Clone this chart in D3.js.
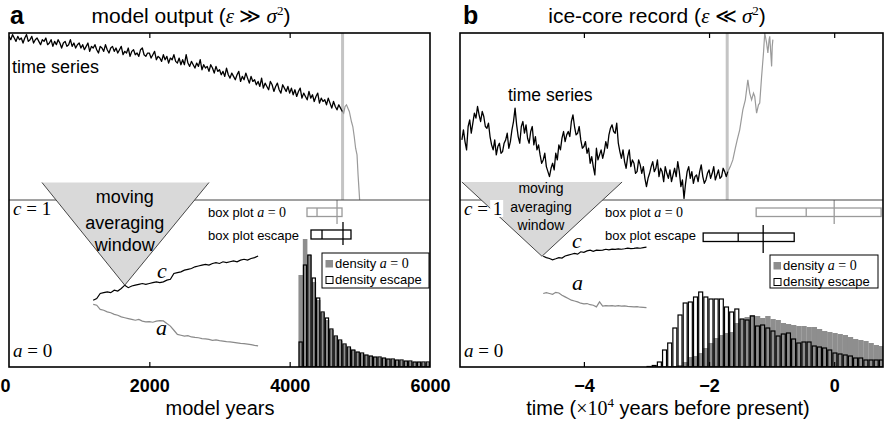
<!DOCTYPE html>
<html><head><meta charset="utf-8">
<script src="https://cdn.jsdelivr.net/npm/d3@7"></script>
<style>body{margin:0;background:#fff}svg{display:block}</style>
</head><body><svg id="chart" width="885" height="435"></svg>
<script>
// ---------------- DATA ----------------
// panel a: model output (years)
const modelTicks = [0, 2000, 4000, 6000];
const modelStart = 0, modelStep = 25;
const modelBlack = [
  98,96,99,97,95,98,96,97,94,97,99,95,96,98,94,96,97,95,93,96,
  95,97,93,94,96,92,95,93,96,94,91,94,95,92,93,96,92,94,91,93,
  94,91,93,90,92,94,89,92,91,93,90,88,92,91,89,93,90,88,91,92,
  89,91,88,90,92,87,89,88,91,86,89,90,87,88,86,90,91,87,86,88,
  88,85,87,89,84,86,85,83,87,84,86,82,85,84,87,83,82,85,81,84,
  81,87,82,80,83,81,79,82,80,84,78,81,79,80,77,81,79,76,80,77,
  78,75,77,74,79,75,73,76,74,72,75,77,71,74,72,76,73,70,74,71,
  72,69,71,68,73,67,70,68,66,71,69,65,68,70,66,64,69,67,65,68,
  64,67,63,66,62,65,67,61,64,62,60,65,61,63,59,62,64,58,61,59,
  60,57,61,58,55,59,56,54,57,55,53];
const modelGrayYears = [4750,4770,4790,4810,4830,4850,4880,4900,4920,4940,4960,4975,4990,5000];
const modelGrayVals  = [53,52,56,57,55,53,47,44,38,31,27,15,5,-2];
const modelTransition = 4754;
const modelLineStart = 1200, modelLineStep = 50;
const modelC = [0.40,0.41,0.44,0.445,0.45,0.445,0.46,0.455,0.47,0.49, 0.475,0.485,0.49,0.495,0.50,0.495,0.50,0.505,0.51,0.505,
  0.51,0.52,0.525,0.56,0.565,0.57,0.58,0.585,0.59,0.60, 0.605,0.61,0.615,0.61,0.62,0.625,0.62,0.63,0.625,0.63,
  0.635,0.63,0.64,0.645,0.64,0.65,0.655,0.665];
const modelA = [0.375,0.37,0.345,0.34,0.33,0.325,0.315,0.31,0.30,0.295, 0.29,0.285,0.28,0.285,0.275,0.27,0.272,0.268,0.275,0.278,
  0.276,0.26,0.245,0.22,0.195,0.19,0.185,0.188,0.18,0.177, 0.175,0.17,0.168,0.165,0.16,0.162,0.158,0.155,0.152,0.15,
  0.148,0.145,0.142,0.14,0.137,0.134,0.13,0.127];
const modelWindow = [470, 1650, 2850];         // start, centre, end (years)
const modelBinStart = 4125, modelBinWidth = 62.5;
const modelDensA0  = [92,128,112,85,67,54,47,37,30,26,22,19,17,15,13,12,11,10,9,9,8,7,7,6,6,5,5,5,4,4];
const modelDensEsc = [25,102,112,89,69,55,49,38,31,27,23,20,17,15,14,12,11,10,10,9,8,8,7,7,6,6,5,5,5,5];
const modelBoxA0  = [4247, 4390, 4746, 4675];  // q1, median, q3, marker
const modelBoxEsc = [4304, 4461, 4874, 4760];

// panel b: ice-core record (x 10^4 years before present)
const iceTicks = [-4, -2, 0];
const iceStart = -5.95, iceStep = 0.025;
const iceBlack = [
  36,42,35,30,44,48,40,46,52,49,56,51,47,53,50,44,43,46,38,33,
  30,36,27,32,34,28,29,34,36,40,31,35,42,47,55,45,38,34,44,47,
  40,45,37,34,41,44,33,38,30,33,27,22,24,28,20,17,14,19,22,18,
  28,24,33,30,37,41,35,39,41,38,47,51,44,39,40,44,36,31,32,35,
  28,31,22,26,20,15,31,24,27,30,25,29,35,31,39,43,45,41,40,46,
  34,29,25,30,23,19,26,30,20,24,22,16,17,24,21,16,20,13,8,13,
  16,20,23,17,19,24,14,19,17,11,20,16,13,18,11,15,19,14,23,17,
  8,12,1,10,17,20,13,17,10,14,15,11,17,21,14,10,12,16,18,13,
  16,20,12,15,18,13,14,19,17,14,17];
const iceGrayT = [-1.70,-1.66,-1.62,-1.58,-1.55,-1.51,-1.46,-1.42,-1.38,-1.35,-1.32,-1.29,-1.27,-1.24,-1.21,-1.19,-1.16,-1.13,-1.11,-1.08,-1.06,-1.04,-1.03,-1.01,-1.00,-0.99,-0.98];
const iceGrayV = [17,20,24,31,36,42,54,60,72,64,60,64,62,52,57,58,74,88,100,94,88,96,98,86,80,92,96];
const iceTransition = -1.71;
const iceLineStart = -4.65, iceLineStep = 0.05;
const iceC = [0.663,0.655,0.65,0.642,0.648,0.655,0.652,0.665,0.67,0.675, 0.68,0.676,0.69,0.687,0.695,0.70,0.693,0.70,0.698,0.70,
  0.705,0.702,0.706,0.704,0.707,0.705,0.708,0.712,0.709,0.71, 0.713,0.711,0.715,0.718];
const iceA = [0.44,0.445,0.44,0.435,0.447,0.443,0.43,0.42,0.41,0.40, 0.395,0.39,0.382,0.378,0.38,0.373,0.37,0.36,0.39,0.365,
  0.367,0.366,0.368,0.365,0.367,0.364,0.366,0.363,0.362,0.36, 0.362,0.358,0.357,0.355];
const iceWindow = [-5.95, -4.67, -3.39];
const iceBinStart = -3.0, iceBinWidth = 0.0825;
const iceDensEsc = [0.5,1.5,5,17,24,39,52,64,65,70, 75,70,68,68,68,60,55,58,48,47,
  51,41,42,39,36,31,33,34,28,24, 25,25,21,20,19,17,14,13,12,11, 9,9,7,7,7,7];
const iceDensA0 = [0,0,0,0,0,1,2,5,10,11, 14,19,24,29,32,34,35,44,48,50,
  52,51,49,51,48,47,44,43,42,41, 41,40,40,38,36,35,34,33,32,30, 28,27,26,24,22,21];
const iceBoxA0  = [-1.247, -0.447, 0.75, 0.0];
const iceBoxEsc = [-2.094, -1.534, -0.639, -1.135];

// ---------------- DRAW ----------------
const SANS = "'Liberation Sans', Arial, Helvetica, sans-serif";
const SERIF = "'Liberation Serif', 'DejaVu Serif', 'Times New Roman', serif";
const TOP = 33, MID = 200, BOT = 367;
const svg = d3.select('#chart');

const yTop = d3.scaleLinear().domain([0, 100]).range([MID, TOP]);
const yBot = d3.scaleLinear().domain([0, 1]).range([BOT, MID]);
const yDen = d3.scaleLinear().domain([0, 167]).range([BOT, MID]);

function mathLabel(sel, parts) {
  parts.forEach(p => {
    const t = sel.append('tspan').text(p.t)
      .attr('font-family', p.serif ? SERIF : SANS);
    if (p.it) t.attr('font-style', 'italic');
    if (p.size) t.attr('font-size', p.size);
    if (p.dy) t.attr('dy', p.dy);
  });
  return sel;
}

function panel(cfg) {
  const x = cfg.x;
  const [L, R] = x.range();
  const g = svg.append('g');
  const defs = svg.append('defs');
  defs.append('clipPath').attr('id', 'ct' + cfg.key).append('rect')
    .attr('x', L).attr('y', TOP).attr('width', R - L).attr('height', MID - TOP);
  defs.append('clipPath').attr('id', 'cb' + cfg.key).append('rect')
    .attr('x', L).attr('y', MID).attr('width', R - L).attr('height', BOT - MID);

  const gt = g.append('g').attr('clip-path', `url(#ct${cfg.key})`);
  const gb = g.append('g').attr('clip-path', `url(#cb${cfg.key})`);

  // transition marker
  gt.append('line').attr('x1', x(cfg.transition)).attr('x2', x(cfg.transition))
    .attr('y1', TOP).attr('y2', MID).attr('stroke', '#c4c4c4').attr('stroke-width', 3);

  // time series
  const line = d3.line().x(d => x(d[0])).y(d => yTop(d[1]));
  const blackPts = cfg.black.map((v, i) => [cfg.start + i * cfg.step, v]);
  const grayPts = cfg.grayX.map((t, i) => [t, cfg.grayV[i]]);
  gt.append('path').attr('d', line(grayPts)).attr('fill', 'none')
    .attr('stroke', '#9a9a9a').attr('stroke-width', 1.2);
  gt.append('path').attr('d', line(blackPts)).attr('fill', 'none')
    .attr('stroke', '#000').attr('stroke-width', 1.3).attr('stroke-linejoin', 'round');

  g.append('text').attr('x', cfg.tsLabel[0]).attr('y', cfg.tsLabel[1])
    .attr('font-family', SANS).attr('font-size', cfg.tsSize).text('time series');

  // histograms
  const bw = x(cfg.binStart + cfg.binWidth) - x(cfg.binStart);
  gb.selectAll('rect.a0').data(cfg.densA0).join('rect')
    .attr('x', (d, i) => x(cfg.binStart + i * cfg.binWidth))
    .attr('width', bw + 0.2)
    .attr('y', d => yDen(d)).attr('height', d => BOT - yDen(d))
    .attr('fill', '#8e8e8e');
  gb.selectAll('rect.esc').data(cfg.densEsc).join('rect')
    .attr('x', (d, i) => x(cfg.binStart + i * cfg.binWidth) + 0.6)
    .attr('width', bw - 1.2)
    .attr('y', d => yDen(d)).attr('height', d => BOT - yDen(d))
    .attr('fill', 'none').attr('stroke', '#000').attr('stroke-width', 1.2);

  // averaged lines
  const lineB = d3.line().x(d => x(d[0])).y(d => yBot(d[1]));
  const cPts = cfg.cVals.map((v, i) => [cfg.lineStart + i * cfg.lineStep, v]);
  const aPts = cfg.aVals.map((v, i) => [cfg.lineStart + i * cfg.lineStep, v]);
  gb.append('path').attr('d', lineB(aPts)).attr('fill', 'none').attr('stroke', '#8a8a8a').attr('stroke-width', 1.2);
  gb.append('path').attr('d', lineB(cPts)).attr('fill', 'none').attr('stroke', '#000').attr('stroke-width', 1.2);
  g.append('text').attr('x', cfg.cLab[0]).attr('y', cfg.cLab[1]).attr('font-family', SERIF)
    .attr('font-style', 'italic').attr('font-size', 22).text('c');
  g.append('text').attr('x', cfg.aLab[0]).attr('y', cfg.aLab[1]).attr('font-family', SERIF)
    .attr('font-style', 'italic').attr('font-size', 22).text('a');

  // box plots
  function box(stats, yb, color, lineY) {
    const bg = g.append('g');
    bg.append('rect').attr('x', x(stats[0])).attr('y', yb[0])
      .attr('width', x(stats[2]) - x(stats[0])).attr('height', yb[1] - yb[0])
      .attr('fill', 'none').attr('stroke', color).attr('stroke-width', 1.3);
    bg.append('line').attr('x1', x(stats[1])).attr('x2', x(stats[1]))
      .attr('y1', yb[0]).attr('y2', yb[1]).attr('stroke', color).attr('stroke-width', 1.3);
    bg.append('line').attr('x1', x(stats[3])).attr('x2', x(stats[3]))
      .attr('y1', lineY[0]).attr('y2', lineY[1]).attr('stroke', color).attr('stroke-width', 1.3);
  }
  box(cfg.boxA0, [208, 216.5], '#9a9a9a', [200, 224]);
  box(cfg.boxEsc, cfg.escBoxY, '#000', cfg.escLineY);
  mathLabel(g.append('text').attr('x', cfg.boxLabX).attr('y', 217).attr('font-size', 13),
    [{t: 'box plot '}, {t: 'a', serif: true, it: true, size: 14}, {t: ' = 0', serif: true, size: 14}]);
  g.append('text').attr('x', cfg.boxLabX).attr('y', 240).attr('font-size', 13)
    .attr('font-family', SANS).text('box plot escape');

  // legend
  const [lx, ly, lw, lh] = cfg.legend;
  const lg = g.append('g');
  lg.append('rect').attr('x', lx).attr('y', ly).attr('width', lw).attr('height', lh)
    .attr('fill', '#fff').attr('stroke', '#000').attr('stroke-width', 1);
  lg.append('rect').attr('x', lx + 3.5).attr('y', ly + 7).attr('width', 7.5).attr('height', 7.5).attr('fill', '#8e8e8e');
  lg.append('rect').attr('x', lx + 4).attr('y', ly + 23.5).attr('width', 7).attr('height', 7)
    .attr('fill', '#fff').attr('stroke', '#000').attr('stroke-width', 1);
  mathLabel(lg.append('text').attr('x', lx + 13).attr('y', ly + 14.5).attr('font-size', 13),
    [{t: 'density '}, {t: 'a', serif: true, it: true, size: 14}, {t: ' = 0', serif: true, size: 14}]);
  lg.append('text').attr('x', lx + 13).attr('y', ly + 31).attr('font-size', 13)
    .attr('font-family', SANS).text('density escape');

  // divider
  g.append('line').attr('x1', L).attr('x2', R).attr('y1', MID).attr('y2', MID)
    .attr('stroke', '#444').attr('stroke-width', 1);

  // moving averaging window
  const tl = [x(cfg.window[0]), cfg.winTop], tr = [x(cfg.window[2]), cfg.winTop];
  const ap = [x(cfg.window[1]), yBot(cfg.cVals[Math.round((cfg.window[1] - cfg.lineStart) / cfg.lineStep)])];
  g.append('path').attr('d', `M${tl}L${tr}L${ap}Z`).attr('fill', '#d9d9d9');
  g.append('path').attr('d', `M${tl}L${ap}L${tr}`).attr('fill', 'none').attr('stroke', '#333').attr('stroke-width', 0.9);
  ['moving', 'averaging', 'window'].forEach((w, i) => {
    g.append('text').attr('x', ap[0] + cfg.winTextDx).attr('y', cfg.winTextY[i]).attr('text-anchor', 'middle')
      .attr('font-family', SANS).attr('font-size', cfg.winSize).text(w);
  });

  // state labels
  const c1 = g.append('text').attr('x', L + 4).attr('y', 215).attr('font-size', 19);
  mathLabel(c1, [{t: 'c', serif: true, it: true}, {t: ' = 1', serif: true}]);
  if (cfg.c1bg) {
    const bb = c1.node().getBBox();
    g.insert('rect', () => c1.node()).attr('x', bb.x + bb.width - 12).attr('y', bb.y + 2)
      .attr('width', 13).attr('height', bb.height - 4).attr('fill', '#fff');
  }
  mathLabel(g.append('text').attr('x', L + 4).attr('y', 357).attr('font-size', 19),
    [{t: 'a', serif: true, it: true}, {t: ' = 0', serif: true}]);

  // frame + inner ticks
  g.append('rect').attr('x', L).attr('y', TOP).attr('width', R - L).attr('height', BOT - TOP)
    .attr('fill', 'none').attr('stroke', '#000').attr('stroke-width', 1.6);
  const inner = cfg.ticks.filter(t => x(t) > L + 2 && x(t) < R - 2);
  const tk = g.append('g').attr('transform', `translate(0,${TOP})`)
    .call(d3.axisBottom(x).tickValues(inner).tickSize(5).tickFormat(''));
  tk.select('.domain').remove();
  const bk = g.append('g').attr('transform', `translate(0,${BOT})`)
    .call(d3.axisTop(x).tickValues(inner).tickSize(5).tickFormat(''));
  bk.select('.domain').remove();
  g.selectAll('.tick line').attr('stroke', '#000').attr('stroke-width', 1.2);

  // tick labels
  const lab = g.append('g').attr('transform', `translate(0,${BOT})`)
    .call(d3.axisBottom(x).tickValues(cfg.ticks).tickSize(0).tickPadding(12.5).tickFormat(cfg.fmt));
  lab.select('.domain').remove();
  lab.selectAll('text').attr('font-family', SANS).attr('font-size', 18).attr('font-weight', 'bold').attr('fill', '#000');
  if (cfg.key === 'a') lab.select('.tick text').attr('text-anchor', 'start').attr('x', -9);

  // axis title
  mathLabel(g.append('text').attr('x', cfg.axisTitleX).attr('y', 415).attr('text-anchor', 'middle').attr('font-size', 20),
    cfg.axisTitle);
  // panel title
  g.append('text').attr('x', cfg.letterX).attr('y', 24).attr('font-family', SANS)
    .attr('font-weight', 'bold').attr('font-size', 25).text(cfg.key);
  mathLabel(g.append('text').attr('x', cfg.titleX).attr('y', 23).attr('text-anchor', 'middle').attr('font-size', 21),
    cfg.title);
}

panel({
  key: 'a',
  x: d3.scaleLinear().domain([0, 6000]).range([9, 430]),
  ticks: modelTicks, fmt: d => d3.format('d')(d),
  transition: modelTransition,
  black: modelBlack, start: modelStart, step: modelStep,
  grayX: modelGrayYears, grayV: modelGrayVals,
  tsLabel: [12, 73], tsSize: 18,
  binStart: modelBinStart, binWidth: modelBinWidth, densA0: modelDensA0, densEsc: modelDensEsc,
  cVals: modelC, aVals: modelA, lineStart: modelLineStart, lineStep: modelLineStep,
  cLab: [157, 278], aLab: [156, 335],
  boxA0: modelBoxA0, boxEsc: modelBoxEsc, escBoxY: [230, 239], escLineY: [222, 245], boxLabX: 208,
  legend: [322, 253, 107, 35],
  window: modelWindow, winTop: 182.5, winTextDx: 0, winTextY: [203, 229, 251], winSize: 18,
  c1bg: false,
  axisTitleX: 220, axisTitle: [{t: 'model years'}],
  letterX: 10, titleX: 191,
  title: [{t: 'model output ('}, {t: 'ε', serif: true, it: true}, {t: ' ≫ ', serif: true},
          {t: 'σ', serif: true, it: true}, {t: '2', serif: true, size: 13, dy: -8}, {t: ')', dy: 8}]
});

panel({
  key: 'b',
  x: d3.scaleLinear().domain([-5.98, 0.78]).range([460, 883]),
  ticks: iceTicks, fmt: d => (d < 0 ? '\u2212' + Math.abs(d) : String(d)),
  transition: iceTransition,
  black: iceBlack, start: iceStart, step: iceStep,
  grayX: iceGrayT, grayV: iceGrayV,
  tsLabel: [508, 101], tsSize: 17.5,
  binStart: iceBinStart, binWidth: iceBinWidth, densA0: iceDensA0, densEsc: iceDensEsc,
  cVals: iceC, aVals: iceA, lineStart: iceLineStart, lineStep: iceLineStep,
  cLab: [572, 248], aLab: [572, 290],
  boxA0: iceBoxA0, boxEsc: iceBoxEsc, escBoxY: [233, 241.5], escLineY: [225, 253], boxLabX: 605,
  legend: [770, 255, 108, 33],
  window: iceWindow, winTop: 182, winTextDx: -1, winTextY: [193, 212, 230], winSize: 14,
  c1bg: true,
  axisTitleX: 668,
  axisTitle: [{t: 'time ('}, {t: '×10', serif: true}, {t: '4', serif: true, size: 13, dy: -8},
              {t: ' years before present)', dy: 8}],
  letterX: 463, titleX: 657,
  title: [{t: 'ice-core record ('}, {t: 'ε', serif: true, it: true}, {t: ' ≪ ', serif: true},
          {t: 'σ', serif: true, it: true}, {t: '2', serif: true, size: 13, dy: -8}, {t: ')', dy: 8}]
});
</script></body></html>
